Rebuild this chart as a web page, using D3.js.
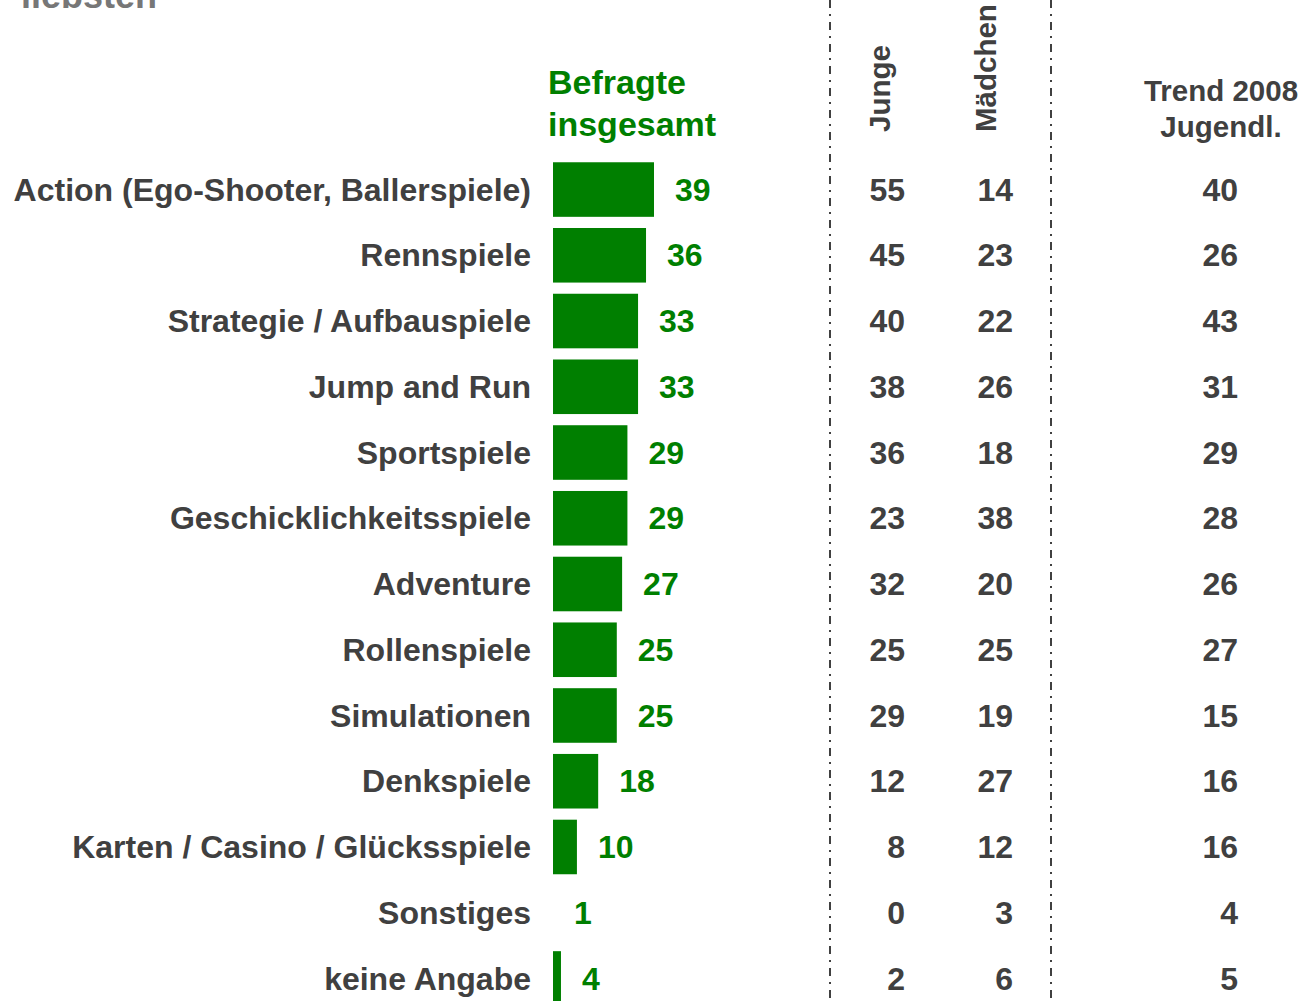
<!doctype html>
<head>
	<meta charset="utf-8">
	<title>Spiele Genres</title>
	<script src="https://d3js.org/d3.v7.min.js"></script>
	<style>
		body { margin: 0; background: #fff; }
		text { font-family: "Liberation Sans", Arial, sans-serif; font-weight: bold; }
	</style>
</head>
<body>
	<svg id="chart" width="1301" height="1001"></svg>
	<script>
		let width = 1301, height = 1001

		// Genres and values
		let genres = ["Action (Ego-Shooter, Ballerspiele)", "Rennspiele", "Strategie / Aufbauspiele",
			"Jump and Run", "Sportspiele", "Geschicklichkeitsspiele", "Adventure", "Rollenspiele",
			"Simulationen", "Denkspiele", "Karten / Casino / Glücksspiele", "Sonstiges", "keine Angabe"]
		let total = [39, 36, 33, 33, 29, 29, 27, 25, 25, 18, 10, 1, 4]
		let junge = [55, 45, 40, 38, 36, 23, 32, 25, 29, 12, 8, 0, 2]
		let maedchen = [14, 23, 22, 26, 18, 38, 20, 25, 19, 27, 12, 3, 6]
		let trend2008 = [40, 26, 43, 31, 29, 28, 26, 27, 15, 16, 16, 4, 5]

		const green = "#007f00", grey = "#404040"
		const svg = d3.select("#chart")

		const y = d3.scaleBand().domain(genres).range([157, 1011]).paddingInner(0.17).paddingOuter(0.08)
		const x = d3.scaleLinear().domain([1, 39]).range([553, 654]).clamp(true)

		// cut-off title at the top (only its lower edge is visible)
		svg.append("text").attr("x", 157).attr("y", 8).attr("font-size", 36).attr("fill", "#777")
			.attr("text-anchor", "end").text("liebsten")

		// headers
		svg.append("text").attr("x", 548).attr("y", 94).attr("font-size", 34).attr("fill", green).text("Befragte")
		svg.append("text").attr("x", 548).attr("y", 136).attr("font-size", 34).attr("fill", green).text("insgesamt")
		svg.append("text").attr("transform", "translate(890,132) rotate(-90)").attr("font-size", 29.5)
			.attr("fill", grey).text("Junge")
		svg.append("text").attr("transform", "translate(996,132) rotate(-90)").attr("font-size", 29.5)
			.attr("fill", grey).text("Mädchen")
		svg.append("text").attr("x", 1221).attr("y", 101).attr("font-size", 29.5).attr("text-anchor", "middle")
			.attr("fill", grey).text("Trend 2008")
		svg.append("text").attr("x", 1221).attr("y", 137).attr("font-size", 29.5).attr("text-anchor", "middle")
			.attr("fill", grey).text("Jugendl.")

		// dash-dot separators
		svg.selectAll(".sep").data([830, 1051]).join("line")
			.attr("x1", d => d).attr("x2", d => d).attr("y1", 0).attr("y2", height)
			.attr("stroke", grey).attr("stroke-width", 2).attr("stroke-dasharray", "8,6,2,6")

		const rows = svg.selectAll(".row").data(genres).join("g")
			.attr("transform", d => `translate(0,${y(d) + y.bandwidth() / 2})`)

		rows.append("text").attr("x", 531).attr("dy", "0.35em").attr("text-anchor", "end")
			.attr("font-size", 32).attr("fill", grey).text(d => d)

		rows.append("rect").attr("x", x(1)).attr("y", -y.bandwidth() / 2)
			.attr("height", y.bandwidth()).attr("width", (d, i) => x(total[i]) - x(1)).attr("fill", green)

		rows.append("text").attr("x", (d, i) => x(total[i]) + 21).attr("dy", "0.35em")
			.attr("font-size", 32).attr("fill", green).text((d, i) => total[i])

		const cols = [[junge, 905], [maedchen, 1013], [trend2008, 1238]]
		cols.forEach(([vals, cx]) => {
			rows.append("text").attr("x", cx).attr("dy", "0.35em").attr("text-anchor", "end")
				.attr("font-size", 32).attr("fill", grey).text((d, i) => vals[i])
		})
	</script>
</body>
